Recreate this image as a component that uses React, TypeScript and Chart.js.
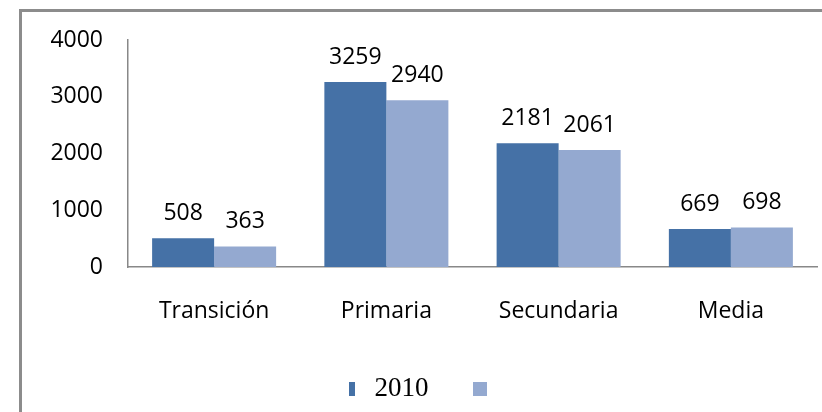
import { useEffect, useRef } from "react";
import { Chart, registerables } from "chart.js";

Chart.register(...registerables);

const categories = ["Transición", "Primaria", "Secundaria", "Media"];
const series2010 = [508, 3259, 2181, 669];
const series2011 = [363, 2940, 2061, 698];
const seriesLabels = ["2010", ""];
const yMin = 0;
const yMax = 4000;
const yStep = 1000;

const DARK = "#4571A6";
const LIGHT = "#94A9D0";
const SANS = "'Open Sans', sans-serif";
const SERIF = "'Liberation Serif', 'Times New Roman', serif";

function makeBox(w: number, h: number, color: string) {
  const c = document.createElement("canvas");
  c.width = w;
  c.height = h;
  const ctx = c.getContext("2d")!;
  ctx.fillStyle = color;
  ctx.fillRect(0, 0, w, h);
  return c;
}

const valueLabels = {
  id: "valueLabels",
  afterDatasetsDraw(chart: any) {
    const ctx = chart.ctx;
    ctx.save();
    ctx.font = `23px ${SANS}`;
    ctx.fillStyle = "#000";
    ctx.textAlign = "center";
    ctx.textBaseline = "alphabetic";
    chart.data.datasets.forEach((ds: any, i: number) => {
      const meta = chart.getDatasetMeta(i);
      meta.data.forEach((el: any, j: number) => {
        ctx.fillText(String(ds.data[j]), el.x, el.y - 18);
      });
    });
    ctx.restore();
  },
};

export default function App() {
  const ref = useRef<HTMLCanvasElement | null>(null);

  useEffect(() => {
    if (!ref.current) return;
    const boxes = [makeBox(6, 14, DARK), makeBox(14, 14, LIGHT)];
    const chart = new Chart(ref.current, {
      type: "bar",
      data: {
        labels: categories,
        datasets: [
          {
            label: seriesLabels[0],
            data: series2010,
            backgroundColor: DARK,
            categoryPercentage: 0.72,
            barPercentage: 1,
          },
          {
            label: seriesLabels[1],
            data: series2011,
            backgroundColor: LIGHT,
            categoryPercentage: 0.72,
            barPercentage: 1,
          },
        ],
      },
      options: {
        animation: false,
        responsive: false,
        maintainAspectRatio: false,
        layout: { padding: { left: 28, right: 5, top: 40, bottom: 0 } },
        plugins: {
          tooltip: { enabled: false },
          legend: {
            position: "bottom",
            labels: {
              usePointStyle: true,
              pointStyleWidth: 18,
              padding: 42,
              color: "#000",
              font: { family: SERIF, size: 27, lineHeight: 1 },
              generateLabels: (c: any) =>
                c.data.datasets.map((ds: any, i: number) => ({
                  text: ds.label,
                  fillStyle: ds.backgroundColor,
                  strokeStyle: ds.backgroundColor,
                  lineWidth: 0,
                  pointStyle: boxes[i],
                  hidden: false,
                  datasetIndex: i,
                })),
            },
          },
        },
        scales: {
          x: {
            grid: { display: false, drawTicks: false },
            border: { display: true, color: "#888", width: 1.5 },
            ticks: { color: "#000", font: { family: SANS, size: 23 }, padding: 31 },
            afterFit: (s: any) => {
              s.height = 66;
            },
          },
          y: {
            min: yMin,
            max: yMax,
            grid: { display: false, drawTicks: false },
            border: { display: true, color: "#888", width: 1.5 },
            ticks: {
              stepSize: yStep,
              color: "#000",
              font: { family: SANS, size: 23 },
              padding: 25,
              callback: (v: any) => String(v),
            },
            afterFit: (s: any) => {
              s.width = 100;
            },
          },
        },
      },
      plugins: [valueLabels],
    });
    return () => chart.destroy();
  }, []);

  return (
    <div
      style={{
        position: "fixed",
        left: 0,
        top: 0,
        width: 822,
        height: 412,
        background: "#fff",
        overflow: "hidden",
      }}
    >
      <div
        style={{
          position: "absolute",
          left: 19,
          top: 9,
          width: 900,
          height: 500,
          borderLeft: "3px solid #8c8c8c",
          borderTop: "3px solid #8c8c8c",
        }}
      />
      <canvas
        ref={ref}
        width={822}
        height={412}
        style={{ position: "absolute", left: 0, top: 0 }}
      />
    </div>
  );
}
